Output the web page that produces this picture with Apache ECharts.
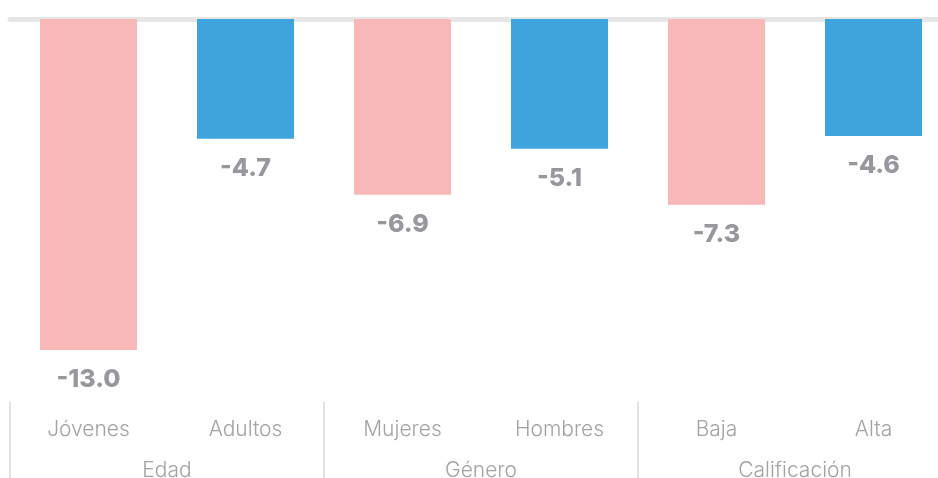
<!DOCTYPE html>
<html>
<head>
<meta charset="utf-8">
<script src="https://cdn.jsdelivr.net/npm/echarts@6/dist/echarts.min.js"></script>
<style>
  html, body { margin: 0; padding: 0; background: #fff; }
  #main { width: 938px; height: 478px; }
</style>
</head>
<body>
<div id="main"></div>
<script>
// datos
var categorias = ['Jóvenes', 'Adultos', 'Mujeres', 'Hombres', 'Baja', 'Alta'];
var grupos = ['Edad', 'Género', 'Calificación'];
var valores = [-13.0, -4.7, -6.9, -5.1, -7.3, -4.6];
var colores = ['#f9b8b8', '#3ea5dc', '#f9b8b8', '#3ea5dc', '#f9b8b8', '#3ea5dc'];

var myChart = echarts.init(document.getElementById('main'));

var option = {
    animation: false,
    textStyle: { fontFamily: 'Inter' },
    grid: { left: 10, width: 942, top: 19, height: 331, outerBoundsMode: 'none', containLabel: false },
    yAxis: { type: 'value', min: -13, max: 0, show: false },
    xAxis: [
        {
            type: 'category',
            data: categorias,
            position: 'top',
            offset: 2.5,
            axisLine: { lineStyle: { color: '#e6e6e6', width: 5 } },
            axisTick: { show: false },
            axisLabel: { show: false }
        },
        {
            type: 'category',
            data: categorias,
            position: 'bottom',
            offset: 52,
            axisLine: { show: false },
            axisTick: { show: false },
            axisLabel: { color: '#a3a3a3', fontSize: 21, fontWeight: 300, margin: 17 }
        },
        {
            type: 'category',
            data: grupos,
            position: 'bottom',
            offset: 52,
            axisLine: { show: false },
            axisTick: { show: true, length: 80, lineStyle: { color: '#e2e2e2', width: 2 } },
            axisLabel: { color: '#a3a3a3', fontSize: 21, fontWeight: 300, margin: 58 }
        }
    ],
    series: [{
        type: 'bar',
        xAxisIndex: 0,
        data: valores.map(function (v, i) {
            return { value: v, itemStyle: { color: colores[i] } };
        }),
        barWidth: 97,
        label: {
            show: true,
            position: 'bottom',
            distance: 17,
            color: '#98989c',
            fontSize: 25,
            fontWeight: 800,
            formatter: function (p) { return p.value.toFixed(1); }
        }
    }]
};

myChart.setOption(option);
</script>
</body>
</html>
